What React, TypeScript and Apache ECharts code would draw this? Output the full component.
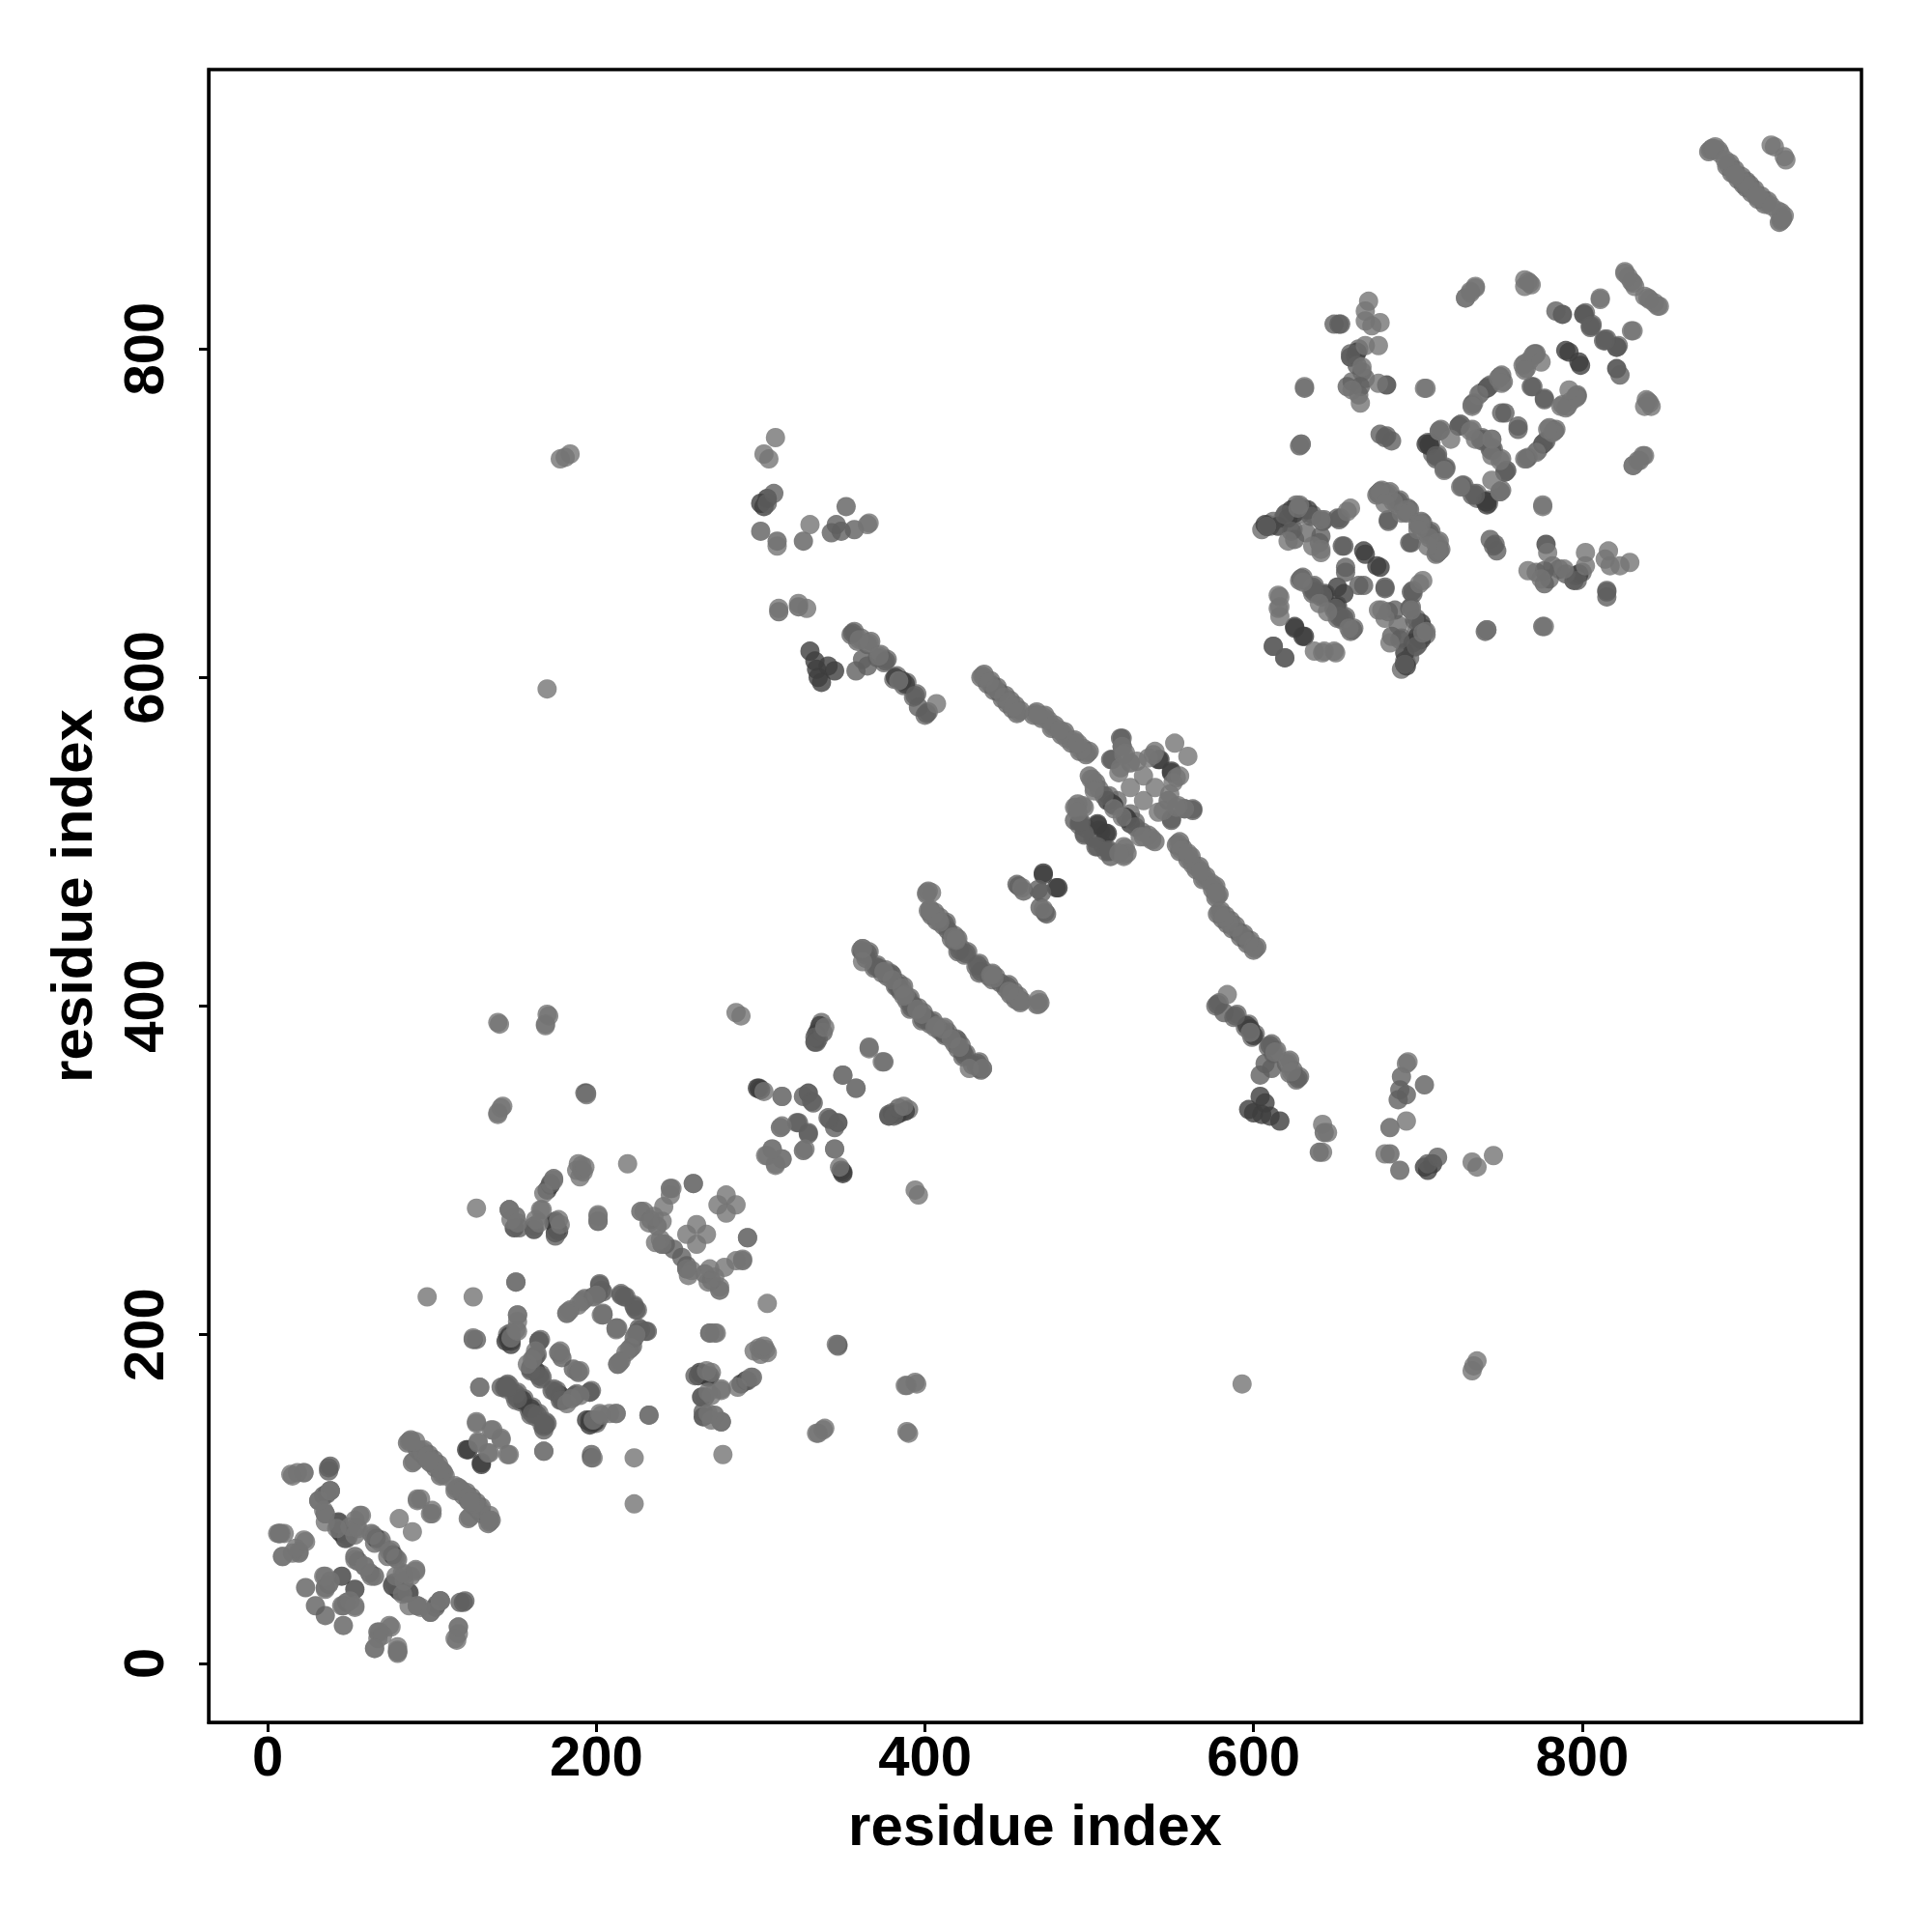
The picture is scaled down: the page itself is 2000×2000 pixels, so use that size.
import React, { useEffect, useRef } from "react";
import * as echarts from "echarts";

const tickValues = [0, 200, 400, 600, 800];
const axisName = "residue index";

// Residue contact pairs [i, j]. The map is symmetric, each pair is drawn at (i,j) and (j,i).
const backContacts: number[][] = [
  [362,435],[366,433],[371,425],[376,422],[379,420],[384,414],[387,412],[391,405],[393,400],[396,399],[362,433],[364,431],[369,423],[374,420],[377,418],[382,412],[385,410],[389,403],[391,398],
  [402,470],[403,459],[406,457],[409,454],[413,451],[418,443],[420,441],[422,435],[426,433],[403,457],[404,455],[407,452],[411,449],[416,441],[418,439],[420,433],[424,431],
  [468,579],[473,577],[479,571],[485,567],[491,562],[496,557],[500,555],[466,577],[471,575],[477,569],[483,565],[489,560],[494,555],[498,553],
  [436,602],[440,598],[444,594],[449,589],[452,586],[455,583],[458,580],[434,600],[438,596],[442,592],[447,587],[450,584],[453,581],[456,578],
  [357,628],[361,624],[367,622],[373,614],[377,611],[383,601],[389,597],[395,590],[402,579],[355,626],[359,622],[365,620],[371,612],[375,609],[381,599],[387,595],[393,588],[400,577],
  [879,922],[890,913],[893,909],[897,905],[900,902],[877,920],[888,911],[891,907],[895,903],[898,900],
  [87,136],[91,130],[95,130],[98,127],[101,124],[104,121],[107,116],[88,122],[93,128],[96,125],[99,122],[102,119],[105,114],[85,134],
  [43,83],[54,83],[65,77],[69,75],[65,73],[63,79],[45,79],[49,77],
  [146,170],[152,165],[156,161],[162,153],[169,147],[144,168],[150,163],[154,159],[160,151],[167,145],[166,197],[164,188],[161,181],[166,176],[174,167],[180,161],[187,163],
  [184,215],[193,222],[203,227],[215,225],[223,218],[204,213],[212,204],[182,213],[191,220],[201,225],
  [146,200],[148,201],[146,197],[335,380],[335,385],[337,390],
  [690,605],[692,610],[695,612],[697,618],[699,628],[703,630],[705,626],
  [706,743],[709,736],[712,734],[717,727],[726,754],[733,751],[740,745],[746,739],[754,726],[751,714],[743,708],[728,717],[736,712],
  [772,797],[766,788],[751,784],[744,778],[738,773],[734,767],
  [797,771],[791,765],[783,750],[780,752],[806,814],[815,806],[802,822],
  [609,693],[620,700],[628,704],[636,699],[643,696],[624,690],[632,688],[653,697],
  [677,713],[689,708],[695,702],[703,694],[713,683],[714,678],[675,711],[687,706],[693,700],[701,692],[711,681],[712,676],
  [638,653],[644,651],[651,643],[656,637],[661,630],[636,651],[642,649],[649,641],[654,635],[659,628],
  [664,800],[662,796],[666,786],[668,782],[660,780],[664,772],
  [500,540],[504,536],[506,532],[512,528],[517,525],[494,510],[498,508],[502,503],[507,506],[493,523],
];
const darkContacts: number[][] = [
  [45,53],[43,85],[44,80],[47,76],[66,76],[43,86],[121,130],[130,122],[155,160],[145,196],[147,199],[148,196],[160,180],[163,178],
  [176,265],[175,262],[174,268],[170,288],[172,291],[298,350],[300,349],[334,383],[336,388],[263,177],[269,175],[264,176],
  [264,162],[265,150],[194,148],[197,147],[333,378],[350,299],[347,329],[472,481],[480,472],[511,525],[514,523],[505,510],[511,505],
  [515,522],[543,550],[550,542],[558,520],[345,604],[341,607],[334,605],[337,597],[335,600],[330,616],[333,610],[300,706],[302,704],[304,709],
  [382,600],[388,596],[386,598],[668,675],[677,667],[625,630],[631,625],[643,650],[790,799],[792,798],[821,801],[788,821],[705,742],[707,741],
  [776,742],[742,707],[693,607],[692,615],[697,621],[700,625],[702,633],[608,692],[627,703],[623,702],[660,629],[663,798],[659,795],[681,778],[651,655],
];
const midContacts: number[][] = [
  [151,232],[125,197],[127,197],[165,196],[160,178],[163,187],[165,175],[177,189],[179,186],[204,226],[202,230],[215,224],[223,217],[225,201],[231,202],[223,198],
  [23,46],[35,46],[37,48],[29,35],[53,65],[55,62],[48,76],[85,43],[35,91],[37,119],[19,67],[38,120],[37,117],[31,99],[34,102],[38,105],[36,103],
  [193,347],[194,347],[175,260],[174,295],[172,292],[153,265],[162,266],[151,272],[227,275],[233,270],[237,266],[240,255],[247,252],[201,269],
  [292,259],[245,289],[242,255],[334,378],[333,381],[338,384],[366,375],[358,350],[326,345],[331,342],[341,332],[322,329],[329,323],[326,312],
  [151,164],[145,169],[161,152],[168,142],[168,146],[173,166],[179,160],[186,162],[196,165],
  [361,434],[365,432],[370,424],[378,419],[383,413],[390,404],[392,399],[400,393],[383,412],[380,419],[372,423],[364,429],[385,409],
  [421,434],[425,432],[414,446],[412,450],[457,473],[460,470],[456,474],[471,469],
  [520,563],[513,550],[525,548],[491,513],[495,512],[497,505],[497,504],[509,528],[494,512],[519,563],[514,550],
  [311,640],[323,643],[352,704],[346,693],[349,689],[343,688],[357,690],[308,712],[304,706],[300,689],[310,683],
  [356,627],[358,604],[365,607],[362,611],[376,610],[394,589],[396,582],[401,578],[326,683],
  [441,595],[445,591],[657,777],[663,790],[659,797],[665,777],[628,741],[631,776],[653,815],[649,815],[742,629],
  [713,750],[711,733],[725,753],[739,744],[745,738],[753,725],[735,711],[727,716],[769,777],[777,770],[753,761],[761,751],[733,766],[743,777],
  [608,692],[619,699],[635,698],[642,695],[652,696],[654,680],[640,682],[623,689],[682,695],[688,707],[696,682],[680,655],[697,651],[686,641],[684,625],[637,652],[650,642],[655,636],[656,667],[664,656],[612,619],[619,612],
  [814,805],[801,821],[805,813],[823,784],[684,744],[677,748],[680,746],[747,681],[815,652],
];
const lightContacts: number[][] = [
  [8,79],[6,79],[10,79],[9,65],[22,75],[19,68],[15,67],[17,70],[18,116],[22,116],[14,115],
  [34,93],[35,86],[42,82],[53,78],[57,90],[53,87],[50,83],[34,53],[35,53],[35,45],[38,50],[53,63],[59,59],
  [68,74],[64,78],[55,82],[56,90],[91,35],[38,105],[105,38],[99,31],[15,114],[22,116],[23,74],[7,79],[65,9],[79,7],
  [86,135],[90,135],[89,123],[94,129],[97,126],[100,123],[103,120],[106,115],[106,117],[108,114],[105,118],[101,122],[98,123],[87,135],
  [91,100],[93,100],[91,99],[80,88],
  [97,223],[125,223],[152,212],[152,208],[151,203],[129,168],[127,146],[137,142],[142,136],[128,134],[147,127],[135,128],
  [163,190],[158,182],[161,185],[188,178],[190,178],[183,214],[192,221],[200,224],[204,212],[212,203],[218,189],[213,182],[198,148],[202,152],[212,152],[232,151],[168,129],[198,125],[276,147],[127,277],
  [141,389],[169,388],[171,394],[194,346],[143,339],[140,335],[285,396],[288,394],[339,387],[374,366],[350,358],[313,345],[302,348],
  [313,327],[307,313],[304,309],[309,303],[313,307],[345,313],[219,304],[147,276],[166,276],[163,270],
  [188,300],[192,299],[191,303],[190,296],[201,273],[201,269],[246,289],[259,292],[241,278],[245,285],[229,275],[235,272],[232,268],[239,258],[236,256],[255,240],[240,269],
  [279,285],[274,279],[255,261],[261,267],[201,272],[142,338],[140,334],[140,390],[191,300],[189,304],[193,302],[174,294],[168,286],[177,270],[178,267],[167,276],[165,268],[148,270],[147,276],[152,268],[170,395],[169,389],
  [362,427],[375,421],[380,416],[386,411],[388,407],[395,398],[387,406],[362,435],
  [401,469],[404,469],[402,458],[405,456],[408,453],[417,442],[419,440],[403,458],[409,451],[419,441],[401,468],[459,472],
  [467,578],[472,576],[478,570],[484,566],[490,561],[495,556],[499,554],[486,563],[475,574],[469,577],[493,560],[482,568],[435,601],[436,600],[439,597],[443,593],[448,588],[451,585],[454,582],[457,579],
  [520,558],[522,554],[518,542],[502,538],[503,533],[496,522],[492,521],[539,553],[552,560],[533,540],[525,533],[529,549],[491,521],[501,538],[503,531],[497,521],[519,545],[521,553],[536,551],[540,555],[493,518],[515,520],
  [360,623],[366,621],[372,613],[384,598],[407,584],[311,642],[328,642],[323,645],[330,693],[365,693],[366,694],[310,680],[309,746],[302,736],[305,733],[170,593],[184,736],[181,734],[178,733],
  [670,829],[668,823],[668,817],[677,816],[672,814],[676,802],[668,802],[666,789],[676,779],[665,767],[660,775],[705,776],[735,838],[729,831],[732,835],[767,841],[769,839],[765,838],
  [826,846],[831,840],[841,830],[847,826],[838,832],[828,844],[811,830],[831,811],[842,765],[840,768],[837,735],[831,729],[834,732],[776,704],[796,770],[790,764],[793,768],
  [771,796],[765,787],[775,792],[750,783],[737,772],[765,733],[782,749],[779,751],
  [716,726],[732,750],[750,713],[735,745],[745,745],[720,745],[676,712],[694,701],[702,693],[712,682],[713,677],[700,690],[707,685],[680,706],
  [627,703],[657,701],[641,676],[621,683],[636,680],[703,659],[615,650],[615,642],[630,658],[660,629],[637,616],[649,616],[643,616],[678,641],[696,641],[705,628],[742,629],[777,631],[645,640],[879,921],
  [878,921],[883,921],[881,923],[889,912],[892,908],[896,904],[899,901],[884,919],[880,922],[917,923],[887,915],[893,906],[915,924],
];

const symmetric = (pairs: number[][]) => pairs.flatMap(([a, b]) => [[a, b], [b, a]]);

export default function App() {
  const ref = useRef<HTMLDivElement>(null);
  useEffect(() => {
    const chart = echarts.init(ref.current!, undefined, { renderer: "svg" });
    const font = "'Liberation Sans', Arial, sans-serif";
    const axis = (extra: any) => ({
      type: "value",
      min: -36,
      max: 970,
      name: axisName,
      nameLocation: "middle",
      splitLine: { show: false },
      axisLine: { show: true, onZero: false, lineStyle: { color: "#000", width: 3 } },
      axisTick: { show: true, length: 10, customValues: tickValues, lineStyle: { color: "#000", width: 3 } },
      ...extra,
    });
    const scatter = (pairs: number[][], color: string) => ({
      type: "scatter",
      data: symmetric(pairs),
      symbolSize: 20,
      itemStyle: { color },
      silent: true,
    });
    chart.setOption({
      animation: false,
      backgroundColor: "#fff",
      grid: { left: 216, top: 72, width: 1711, height: 1711, show: true, borderColor: "#000", borderWidth: 3.5, backgroundColor: "transparent" },
      xAxis: axis({
        nameGap: 76,
        nameTextStyle: { fontFamily: font, fontWeight: "bold", fontSize: 60, color: "#000" },
        axisLabel: { customValues: tickValues, fontFamily: font, fontWeight: "bold", fontSize: 58, color: "#000", margin: 5 },
      }),
      yAxis: axis({
        nameGap: 112,
        nameTextStyle: { fontFamily: font, fontWeight: "bold", fontSize: 60, color: "#000" },
        axisLabel: { customValues: tickValues, rotate: 90, fontFamily: font, fontWeight: "bold", fontSize: 58, color: "#000", margin: 39 },
      }),
      series: [scatter(backContacts, "#6a6a6a"), scatter(darkContacts, "#3d3d3d"), scatter(midContacts, "#5f5f5f"), scatter(lightContacts, "#747474")],
    });
    return () => chart.dispose();
  }, []);
  return <div ref={ref} style={{ position: "absolute", left: 0, top: 0, width: 2000, height: 2000, background: "#fff" }} />;
}
